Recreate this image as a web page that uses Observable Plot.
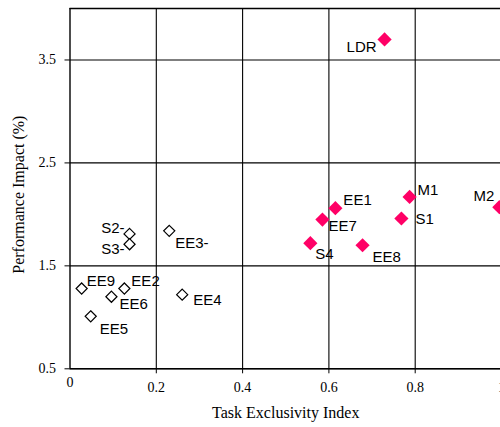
<!DOCTYPE html>
<html>
<head>
<meta charset="utf-8">
<script src="https://cdn.jsdelivr.net/npm/d3@7"></script>
<script src="https://cdn.jsdelivr.net/npm/@observablehq/plot@0.6"></script>
<style>
  html, body { margin: 0; padding: 0; background: #fff; }
  #chart { width: 500px; height: 427px; overflow: hidden; }
  #chart svg g[aria-label*="tick label"] { font-size: 14px; font-family: 'Liberation Serif', 'Times New Roman', serif; }
</style>
</head>
<body>
<div id="chart"></div>
<script>
// ---- data ----
const names   = ["S2-", "S3-", "EE3-", "EE9", "EE2", "EE6", "EE4", "EE5",
                 "LDR", "M1", "M2", "EE1", "EE7", "S1", "S4", "EE8"];
const exclusivity = [0.138, 0.138, 0.230, 0.027, 0.126, 0.096, 0.260, 0.048,
                     0.729, 0.787, 0.995, 0.615, 0.585, 0.768, 0.557, 0.678];
const impact      = [1.81, 1.71, 1.84, 1.28, 1.28, 1.20, 1.22, 1.01,
                     3.70, 2.17, 2.07, 2.06, 1.95, 1.96, 1.72, 1.70];
const groups      = ["open", "open", "open", "open", "open", "open", "open", "open",
                     "filled", "filled", "filled", "filled", "filled", "filled", "filled", "filled"];
const xTicks = [0.2, 0.4, 0.6, 0.8, 1];
const yTicks = [0.5, 1.5, 2.5, 3.5];
const xTitle = "Task Exclusivity Index";
const yTitle = "Performance Impact (%)";

const rows = names.map((n, i) => ({name: n, x: exclusivity[i], y: impact[i], group: groups[i]}));

// label placement (layout only): [dx, dy, anchor]
const place = {
  "S2-": [-5, -6, "end"], "S3-": [-5, 5, "end"], "EE3-": [6, 12, "start"],
  "EE9": [5, -7, "start"], "EE2": [7, -7, "start"], "EE6": [8, 7, "start"],
  "EE4": [11, 6, "start"], "EE5": [9, 13, "start"],
  "LDR": [-8, 8, "end"], "M1": [8, -7, "start"], "M2": [-5, -11, "end"],
  "EE1": [8, -8, "start"], "EE7": [6, 7, "start"], "S1": [14, 1, "start"],
  "S4": [5, 11, "start"], "EE8": [10, 12, "start"]
};

const serif = "'Liberation Serif', 'Times New Roman', serif";
const sans = "'Liberation Sans', Arial, Helvetica, sans-serif";
const pink = "#ff0066";
const fmt = d => d === 0 ? "0" : (d === 1 ? "1" : d3.format(".1f")(d));

const chart = Plot.plot({
  width: 500,
  height: 427,
  marginLeft: 69.5,
  marginRight: -1,
  marginTop: 8,
  marginBottom: 58.7,
  style: {fontFamily: serif, fontSize: "14px", background: "#fff", overflow: "hidden"},
  x: {domain: [0, 1]},
  y: {domain: [0.5, 4]},
  marks: [
    Plot.gridX(xTicks, {stroke: "#000", strokeOpacity: 1, strokeWidth: 1.1}),
    Plot.gridY(yTicks, {stroke: "#000", strokeOpacity: 1, strokeWidth: 1.1}),
    Plot.ruleY([4, 0.5], {stroke: "#000", strokeWidth: 1.4}),
    Plot.ruleX([0], {stroke: "#000", strokeWidth: 1.4}),
    Plot.axisY(yTicks, {tickSize: 5, tickPadding: 9, tickFormat: fmt, fontSize: 14, fontFamily: serif, label: null}),
    Plot.axisX(xTicks, {tickSize: 5, tickPadding: 8, tickFormat: fmt, fontSize: 14, fontFamily: serif, label: null}),
    Plot.axisX([0], {tickSize: 0, tickPadding: 8, tickFormat: fmt, fontSize: 14, fontFamily: serif, label: null}),
    Plot.text([xTitle], {frameAnchor: "bottom", dy: 49.5, fontSize: 16, fontFamily: serif}),
    Plot.text([yTitle], {frameAnchor: "left", textAnchor: "middle", rotate: -90, dx: -51, dy: 6, fontSize: 16, fontFamily: serif}),
    Plot.dot(rows.filter(d => d.group === "open"), {x: "x", y: "y", symbol: "diamond2", r: 5, stroke: "#000", strokeWidth: 1.2, fill: "#fff"}),
    Plot.dot(rows.filter(d => d.group === "filled"), {x: "x", y: "y", symbol: "diamond2", r: 6.4, fill: pink, stroke: "none"}),
    ...rows.map(d => Plot.text([d], {
      x: "x", y: "y", text: "name",
      dx: place[d.name][0], dy: place[d.name][1], textAnchor: place[d.name][2],
      fontSize: 15, fontFamily: sans, fill: "#000"
    }))
  ]
});
document.getElementById("chart").appendChild(chart);
</script>
</body>
</html>
